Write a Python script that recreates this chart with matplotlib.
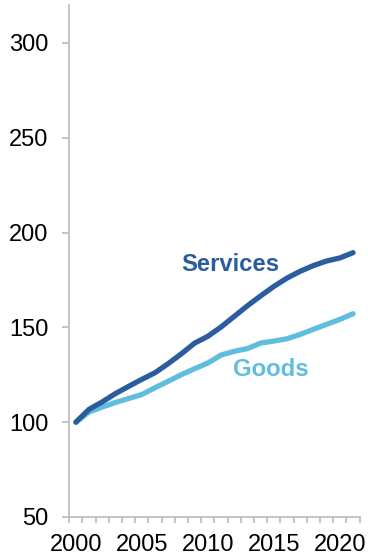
import matplotlib
matplotlib.use("Agg")
import matplotlib.pyplot as plt
import numpy as np

plt.rcParams['font.family'] = ['Liberation Sans', 'DejaVu Sans']

years = list(range(2000, 2022))
services = [100, 106.8, 110.7, 115.1, 118.9, 122.6, 126.1, 130.9, 136.1, 141.7, 145.3,
            150.2, 155.8, 161.4, 166.6, 171.6, 176.0, 179.6, 182.6, 185.0, 186.6, 189.4]
goods = [100, 105.4, 108.0, 110.4, 112.5, 114.6, 118.2, 121.6, 125.1, 128.2, 131.2,
         135.4, 137.4, 138.8, 141.7, 142.8, 144.0, 146.3, 149.0, 151.6, 154.2, 157.2]
year_labels = [2000, 2005, 2010, 2015, 2020]
y_ticks = [50, 100, 150, 200, 250, 300]

DARK = "#2B5D9E"
LIGHT = "#5FBEDD"
GREY = "#BFBFBF"

fig = plt.figure(figsize=(3.68, 5.58), dpi=100)
ax = fig.add_axes([0.1883, 0.0735, 0.789, 0.9175])

ax.plot(years, goods, color=LIGHT, lw=3.8, solid_capstyle="round", solid_joinstyle="round")
ax.plot(years, services, color=DARK, lw=3.8, solid_capstyle="round", solid_joinstyle="round")

ax.text(2011.7, 183.2, "Services", color=DARK, fontsize=17.2, fontweight="bold",
        ha="center", va="center")
ax.text(2014.8, 127.9, "Goods", color=LIGHT, fontsize=17.2, fontweight="bold",
        ha="center", va="center")

ax.set_xlim(1999.5, 2021.5)
ax.set_ylim(50, 320)

ax.set_yticks(y_ticks)
ax.set_xticks(year_labels)
ax.set_xticks(np.arange(1999.5, 2022, 1), minor=True)

for s in ["top", "right"]:
    ax.spines[s].set_visible(False)
for s in ["left", "bottom"]:
    ax.spines[s].set_color(GREY)
    ax.spines[s].set_linewidth(1.3)

ax.tick_params(axis="y", which="major", direction="out", length=5, width=1.3,
               color=GREY, labelsize=17, pad=10)
ax.tick_params(axis="x", which="major", length=0, labelsize=17, pad=12.5)
ax.tick_params(axis="x", which="minor", direction="out", length=4.3, width=1.3, color=GREY)

fig.savefig("out.png", dpi=100)
